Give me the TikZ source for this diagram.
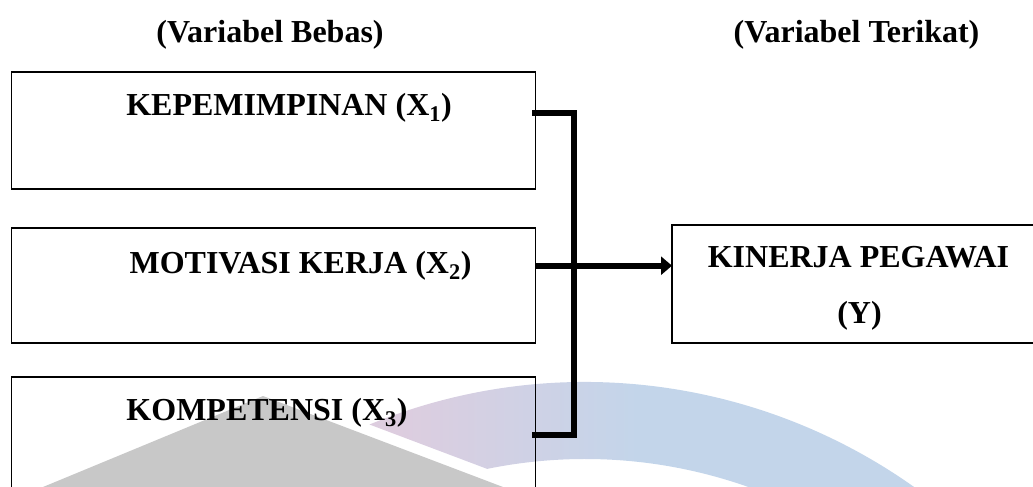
\documentclass[tikz,border=0pt]{standalone}
\usepackage{fontspec}
\setmainfont{Liberation Serif}
\usetikzlibrary{arrows.meta,calc}
\definecolor{wmpink}{HTML}{DDCDDF}
\definecolor{wmblue}{HTML}{C3D5EA}
\definecolor{wmgray}{HTML}{C8C8C8}
\pgfdeclarehorizontalshading{wmshade}{100bp}{color(0bp)=(wmpink); color(27bp)=(wmpink); color(44bp)=(wmblue); color(100bp)=(wmblue)}
\begin{document}
\begin{tikzpicture}[x=1pt,y=-1pt,
  font=\bfseries\fontsize{32}{38}\selectfont,
  box/.style={draw=black, line width=1.6pt, inner sep=0pt, outer sep=0pt, anchor=center},
  conn/.style={line width=6pt, line cap=butt, black},
  lbl/.style={anchor=base, inner sep=0pt, outer sep=0pt}]
\useasboundingbox (0,0) rectangle (1033,487);
\clip (0,0) rectangle (1033,487);
% watermark
\fill[wmgray] (43,487) -- (263,396) -- (503,487) -- cycle;
\shade[shading=wmshade] ($(585,950)+(-112.3:568)$) arc[start angle=-112.3,end angle=-30,radius=568]
  -- ($(585,950)+(-30:491)$) arc[start angle=-30,end angle=-101.5,radius=491] -- cycle;
% boxes
\node[box, minimum width=524pt, minimum height=117pt] (b1) at (273.5,130.5) {};
\node[box, minimum width=524pt, minimum height=115pt] (b2) at (273.5,285.5) {};
\node[box, minimum width=524pt, minimum height=117pt] (b3) at (273.5,435.5) {};
\node[box, minimum width=373pt, minimum height=118pt] (by) at (858.5,284) {};
% connectors
\coordinate (j1) at (573.7,112.7);
\coordinate (j3) at (573.7,435);
\coordinate (ay) at (600,265.7);
\draw[conn] ($(b1.east |- j1)+(-3.5,0)$) -- ($(j1)+(3,0)$);
\draw[conn] ($(b3.east |- j3)+(-3.5,0)$) -- ($(j3)+(3,0)$);
\draw[conn] (j1) -- (j3);
\draw[conn, -{Triangle[length=11pt,width=18pt]}] (b2.east |- ay) -- (by.west |- ay);
% texts
\node[lbl] (h1) at (270,43) {(Variabel Bebas)};
\node[lbl] (h2) at (856.5,43) {(Variabel Terikat)};
\node[lbl] (t1) at (289,115) {KEPEMIMPINAN (X\textsubscript{1})};
\node[lbl] (t2) at (300.5,273) {MOTIVASI KERJA (X\textsubscript{2})};
\node[lbl] (t3) at (267,420) {KOMPETENSI (X\textsubscript{3})};
\node[lbl] (ty1) at (858.5,267) {KINERJA PEGAWAI};
\node[lbl] (ty2) at (859.5,323) {(Y)};
\end{tikzpicture}
\end{document}
